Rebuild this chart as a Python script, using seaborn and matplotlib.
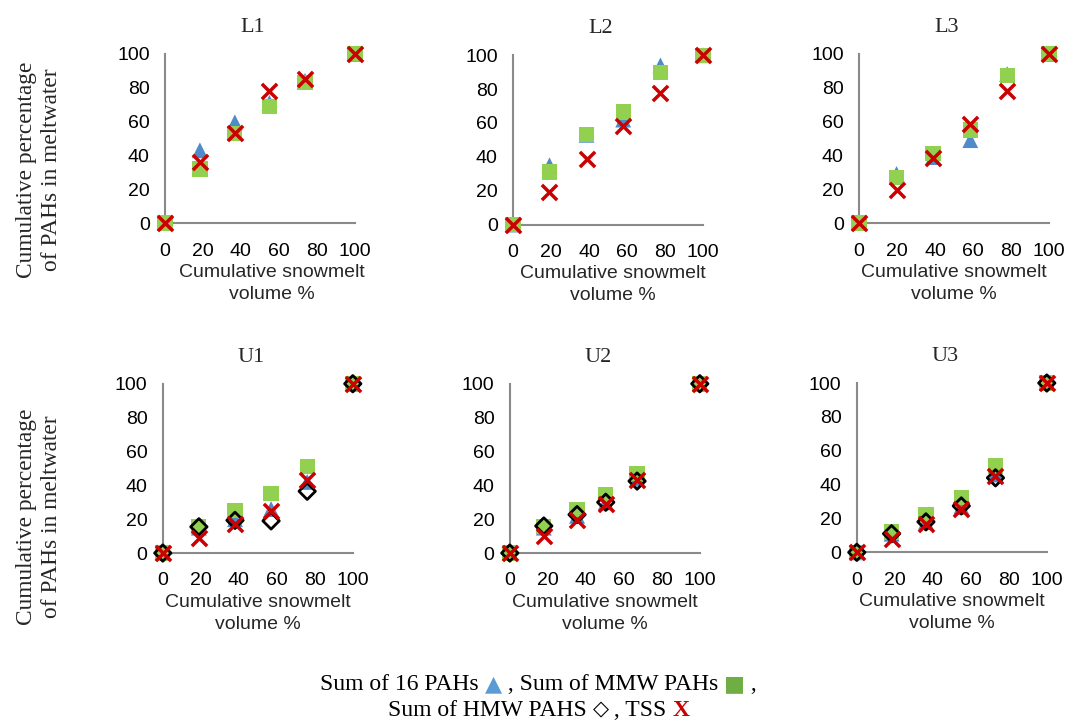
import matplotlib
matplotlib.use("Agg")
import matplotlib.pyplot as plt
import seaborn as sns
import pandas as pd
from matplotlib.offsetbox import TextArea, HPacker, VPacker, AnchoredOffsetbox

# Veriler
panels = ["L1", "L2", "L3", "U1", "U2", "U3"]

snowmelt_L1 = [0, 18.4, 36.8, 55, 73.7, 100]
sum16_L1 = [0, 43, 59.5, 71, 84, 100]
mmw_L1 = [0, 32, 53, 69, 83, 100]
tss_L1 = [0, 36, 53, 78, 85, 100]

snowmelt_L2 = [0, 19.2, 38.7, 58, 77.6, 100]
sum16_L2 = [0, 35, 53, 62, 94, 100]
mmw_L2 = [0, 31, 53, 66.5, 90, 100]
tss_L2 = [0, 19, 38.5, 58, 77.6, 100]

snowmelt_L3 = [0, 19.8, 39, 58.6, 78, 100]
sum16_L3 = [0, 29, 39, 49, 88, 100]
mmw_L3 = [0, 27, 41, 55, 87, 100]
tss_L3 = [0, 19.3, 38.6, 58.3, 78, 100]

snowmelt_U1 = [0, 19, 38, 57, 76, 100]
sum16_U1 = [0, 15, 20, 26, 42, 100]
mmw_U1 = [0, 15.5, 25, 35, 51, 100]
hmw_U1 = [0, 15.5, 19.3, 19, 36.5, 100]
tss_U1 = [0, 9, 17, 25, 43, 100]

snowmelt_U2 = [0, 17.9, 35.4, 50.5, 67, 100]
sum16_U2 = [0, 15, 22, 30, 44, 100]
mmw_U2 = [0, 15.5, 25.7, 34.6, 47, 100]
hmw_U2 = [0, 16, 22.7, 30, 42.5, 100]
tss_U2 = [0, 10, 19.4, 28.7, 43, 100]

snowmelt_U3 = [0, 18.3, 36.4, 55, 73, 100]
sum16_U3 = [0, 11, 18, 27, 46, 100]
mmw_U3 = [0, 12, 22, 32.4, 51, 100]
hmw_U3 = [0, 11, 18, 27.4, 44, 100]
tss_U3 = [0, 7.6, 16.5, 25.5, 45, 100]

ticks = [0, 20, 40, 60, 80, 100]

data = {
    "L1": (snowmelt_L1, sum16_L1, mmw_L1, None, tss_L1),
    "L2": (snowmelt_L2, sum16_L2, mmw_L2, None, tss_L2),
    "L3": (snowmelt_L3, sum16_L3, mmw_L3, None, tss_L3),
    "U1": (snowmelt_U1, sum16_U1, mmw_U1, hmw_U1, tss_U1),
    "U2": (snowmelt_U2, sum16_U2, mmw_U2, hmw_U2, tss_U2),
    "U3": (snowmelt_U3, sum16_U3, mmw_U3, hmw_U3, tss_U3),
}

sns.set_style("white")
SERIF = ["Liberation Serif", "DejaVu Serif"]
SANS = ["Liberation Sans", "DejaVu Sans"]
plt.rcParams["font.family"] = SANS

BLUE = "#4F8BC9"
GREEN = "#92D050"
RED = "#CC0000"
GRAY = "#8A8A8A"

fig = plt.figure(figsize=(10.71, 7.22), dpi=100)

# eksen konumlari (sol, alt) ve x etiketi kaymasi
W, H = 0.1774, 0.2345
positions = {
    "L1": (0.154, 0.691), "L2": (0.479, 0.689), "L3": (0.802, 0.691),
    "U1": (0.152, 0.234), "U2": (0.476, 0.234), "U3": (0.800, 0.235),
}
xlabel_x = {"L1": 0.563, "L2": 0.526}

for name in panels:
    x, s16, mmw, hmw, tss = data[name]
    ax = fig.add_axes([positions[name][0], positions[name][1], W, H])
    df = pd.DataFrame({"x": x, "s16": s16, "mmw": mmw, "tss": tss})

    sns.scatterplot(data=df, x="x", y="s16", marker="^", s=130, color=BLUE,
                    edgecolor="none", ax=ax, clip_on=False, zorder=3)
    sns.scatterplot(data=df, x="x", y="mmw", marker="s", s=120, color=GREEN,
                    edgecolor="none", ax=ax, clip_on=False, zorder=4)
    if hmw is not None:
        df["hmw"] = hmw
        sns.scatterplot(data=df, x="x", y="hmw", marker="D", s=70, facecolor="none",
                        edgecolor="black", linewidth=2, ax=ax, clip_on=False, zorder=5)
    sns.scatterplot(data=df, x="x", y="tss", marker="x", s=120, color=RED,
                    linewidth=2.5, ax=ax, clip_on=False, zorder=6)

    ax.set_xlim(0, 100)
    ax.set_ylim(0, 100)
    ax.set_xticks(ticks)
    ax.set_yticks(ticks)
    ax.tick_params(length=0, labelsize=14, colors="black")
    ax.tick_params(axis="y", pad=11)
    ax.tick_params(axis="x", pad=14)
    for side in ["top", "right"]:
        ax.spines[side].set_visible(False)
    for side in ["left", "bottom"]:
        ax.spines[side].set_color(GRAY)
        ax.spines[side].set_linewidth(1.5)

    ax.set_title(name, family=SERIF, fontsize=16, x=0.463, pad=16)
    ax.set_xlabel("Cumulative snowmelt\nvolume %", fontsize=14, linespacing=1.4,
                  labelpad=3, x=xlabel_x.get(name, 0.5))
    ax.set_ylabel("")

# y ekseni etiketleri
for yc in [0.7645, 0.284]:
    fig.text(0.036, yc, "Cumulative percentage\nof PAHs in meltwater", rotation=90,
             ha="center", va="center", family=SERIF, fontsize=16.8, linespacing=1.25)

# alt aciklama metni
def piece(txt, color="black", weight="normal", fam=None, size=17):
    fam = fam or SERIF
    return TextArea(txt, textprops=dict(color=color, fontsize=size, family=fam,
                                        fontweight=weight))

sym = ["DejaVu Sans"]
line1 = HPacker(children=[piece("Sum of 16 PAHs "), piece("▲", "#5B9BD5", fam=sym, size=16),
                          piece(" , Sum of MMW PAHs "), piece("■", "#6FAD45", fam=sym, size=16),
                          piece(" ,")], align="baseline", pad=0, sep=0)
line2 = HPacker(children=[piece("Sum of HMW PAHS "), piece("◇", weight="bold", fam=sym, size=15),
                          piece(" , TSS "), piece("X", RED, weight="bold")],
                align="baseline", pad=0, sep=0)
box = VPacker(children=[line1, line2], align="center", pad=0, sep=3)
legend = AnchoredOffsetbox(loc="center", child=box, bbox_to_anchor=(0.503, 0.034),
                           bbox_transform=fig.transFigure, frameon=False, pad=0, borderpad=0)
fig.add_artist(legend)

fig.savefig("out.png", dpi=100)
